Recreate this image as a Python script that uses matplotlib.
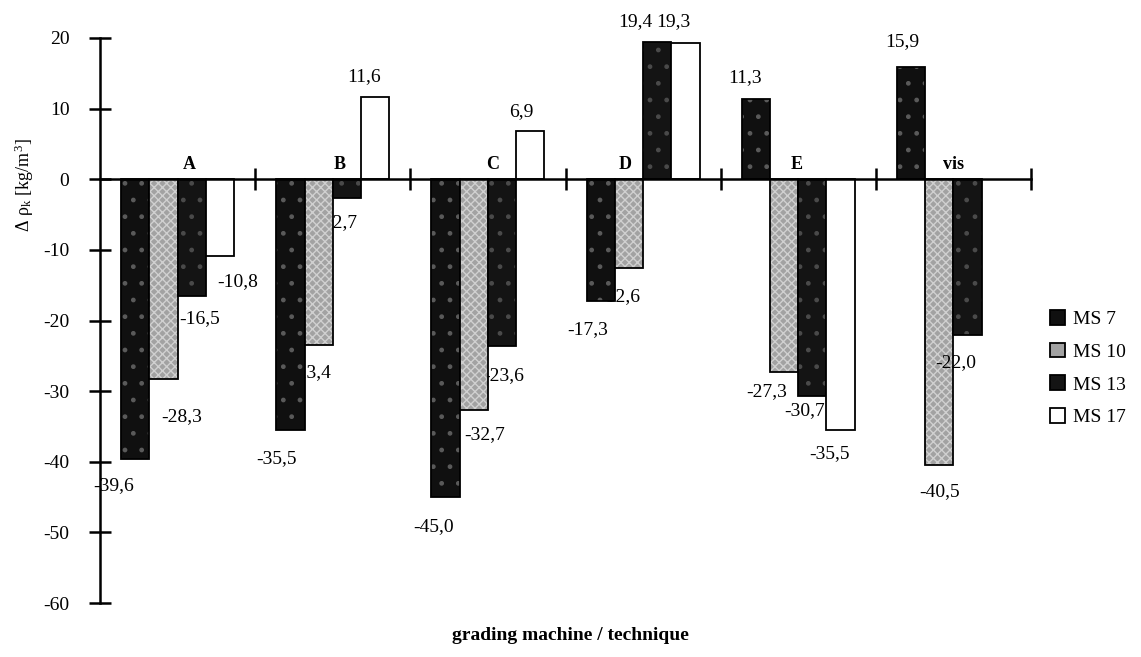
import matplotlib
matplotlib.use("Agg")
import matplotlib.pyplot as plt
from matplotlib.patches import Patch
import numpy as np

# density deviation per grading machine / technique and strength class
categories = ['A', 'B', 'C', 'D', 'E', 'vis']
series = ['MS 7', 'MS 10', 'MS 13', 'MS 17']
ms7 = [-39.6, -35.5, -45.0, -17.3, 11.3, 15.9]
ms10 = [-28.3, -23.4, -32.7, -12.6, -27.3, -40.5]
ms13 = [-16.5, -2.7, -23.6, 19.4, -30.7, -22.0]
ms17 = [-10.8, 11.6, 6.9, 19.3, -35.5, None]
y_ticks = [20, 10, 0, -10, -20, -30, -40, -50, -60]

plt.rcParams['font.family'] = ['Liberation Serif', 'DejaVu Serif']
plt.rcParams['mathtext.fontset'] = 'stix'

# face colour, hatch pattern, hatch colour
styles = [
    ('#101010', '.', '#5a5a5a'),
    ('#a2a2a2', 'xxxx', '#d0d0d0'),
    ('#141414', '.', '#4a4a4a'),
    ('#ffffff', '', '#ffffff'),
]

# value label nudges in pixels (right, down) from the bar end
label_shift = [
    [(-22, 27), (-14, 29), (-12, 30), (-13, 28), (-11, -22), (-9, -25)],
    [(18, 37), (-8, 28), (11, 24), (-9, 28), (-17, 20), (0, 26)],
    [(8, 23), (-5, 24), (2, 30), (-22, -21), (-8, 15), (-12, 28)],
    [(18, 26), (-11, -21), (-9, -19), (-12, -21), (-11, 24), None],
]
# labels printed over the neighbouring bar instead of under it
labels_on_top = {(2, 5)}
# category name nudges in pixels
name_shift = [12, 7, 5, -18, -2, 0]

fig = plt.figure(figsize=(11.41, 6.57), dpi=100)
ax = fig.add_axes([100 / 1141, 1 - 603 / 657, 931 / 1141, 565 / 657])

x = np.arange(len(categories)) + 0.5
width = 0.182
offsets = (np.arange(4) - 1.5) * width

for s, (values, off, (face, hatch, hcol), shifts) in enumerate(
        zip([ms7, ms10, ms13, ms17], offsets, styles, label_shift)):
    keep = [i for i, v in enumerate(values) if v is not None]
    xs = [x[i] + off for i in keep]
    vs = [values[i] for i in keep]
    ax.bar(xs, vs, width, color=face, edgecolor=hcol, hatch=hatch, linewidth=0, zorder=3)
    ax.bar(xs, vs, width, fill=False, edgecolor='black', linewidth=1.3, zorder=3)
    for i, xi, v in zip(keep, xs, vs):
        dx, dy = shifts[i]
        ax.annotate(f"{v:.1f}".replace('.', ','), (xi, v), xytext=(dx, -dy),
                    textcoords='offset pixels', ha='center', va='center',
                    fontsize=14, zorder=5 if (s, i) in labels_on_top else 2)

# category names sit just above the zero line
for xi, name, dx in zip(x, categories, name_shift):
    ax.annotate(name, (xi, 0), xytext=(dx, 6), textcoords='offset pixels',
                ha='center', va='bottom', fontsize=13, fontweight='bold')

ax.set_xlim(0, 6)
ax.set_ylim(-60, 20)
for side in ['top', 'right']:
    ax.spines[side].set_visible(False)
ax.spines['bottom'].set_position(('data', 0))
ax.spines['bottom'].set_linewidth(1.8)
ax.spines['left'].set_linewidth(1.8)
ax.spines['bottom'].set_zorder(4)

ax.set_xticks(np.arange(1, 7))
ax.set_xticklabels([])
ax.tick_params(axis='x', direction='inout', length=16, width=1.8)
ax.set_yticks(y_ticks)
ax.set_yticklabels([str(t) for t in y_ticks])
ax.tick_params(axis='y', direction='inout', length=16, width=1.8, labelsize=14, pad=14)

fig.text(24 / 1141, 1 - 185 / 657, 'Δ ρ$_\\mathregular{k}$ [kg/m$^\\mathregular{3}$]',
         rotation=90, ha='center', va='center', fontsize=13)
fig.text(570 / 1141, 1 - 635 / 657, 'grading machine / technique',
         ha='center', va='center', fontsize=14, fontweight='bold')

handles = [Patch(facecolor=f, edgecolor='black', linewidth=1.3) for f, _, _ in styles]
fig.legend(handles, series, loc='upper left', bbox_to_anchor=(1042 / 1141, 1 - 302 / 657),
           frameon=False, fontsize=14, handlelength=0.8, handleheight=0.8,
           handletextpad=0.4, labelspacing=0.75, borderaxespad=0)

fig.savefig('out.png', dpi=100)
